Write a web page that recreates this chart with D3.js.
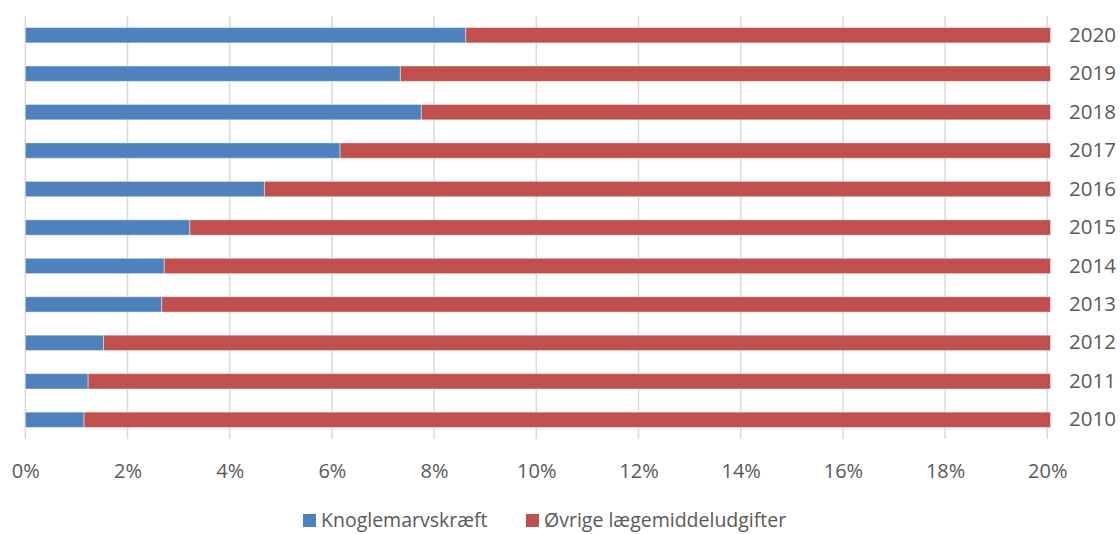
<!DOCTYPE html>
<html>
<head>
<meta charset="utf-8">
<script src="https://cdn.jsdelivr.net/npm/d3@7"></script>
<style>
  body { margin: 0; background: #fff; }
  text { font-family: "Open Sans", "Liberation Sans", sans-serif; fill: #595959; }
</style>
</head>
<body>
<div id="chart-container"></div>
<script>
var years = ['2010', '2011', '2012', '2013', '2014', '2015', '2016', '2017', '2018', '2019', '2020'];
var knoglemarv = [1.15, 1.23, 1.53, 2.67, 2.72, 3.22, 4.68, 6.16, 7.75, 7.34, 8.62];
var oevrige = [98.85, 98.77, 98.47, 97.33, 97.28, 96.78, 95.32, 93.84, 92.25, 92.66, 91.38];
var tickValues = [0, 2, 4, 6, 8, 10, 12, 14, 16, 18, 20];
var seriesNames = ['Knoglemarvskræft', 'Øvrige lægemiddeludgifter'];
var colors = ['#4F81BD', '#C0504D'];

var width = 1120, height = 534;
var plotLeft = 25.3, plotRight = 1047.3, plotTop = 16, plotBottom = 439;

var svg = d3.select('#chart-container')
            .append('svg')
            .attr('width', width)
            .attr('height', height);

var x = d3.scaleLinear().domain([0, 20]).range([plotLeft, plotRight]);
var y = d3.scaleBand().domain(years.slice().reverse()).range([plotTop, plotBottom]).paddingInner(0.6).paddingOuter(0.3);

// gridlines
svg.append('g')
   .selectAll('line')
   .data(tickValues)
   .enter()
   .append('line')
     .attr('x1', function(d) { return x(d); })
     .attr('x2', function(d) { return x(d); })
     .attr('y1', plotTop)
     .attr('y2', plotBottom)
     .attr('stroke', '#d9d9d9')
     .attr('stroke-width', 1.5);

svg.append('defs').append('clipPath')
   .attr('id', 'plotClip')
   .append('rect')
     .attr('x', 0)
     .attr('y', 0)
     .attr('width', x(20) + 3)
     .attr('height', height);

var rows = years.map(function(yr, i) {
  return { year: yr, parts: [[0, knoglemarv[i]], [knoglemarv[i], knoglemarv[i] + oevrige[i]]] };
});

var bars = svg.append('g').attr('clip-path', 'url(#plotClip)');

[0, 1].forEach(function(s) {
  bars.selectAll('rect.s' + s)
      .data(rows)
      .enter()
      .append('rect')
        .attr('class', 's' + s)
        .attr('x', function(d) { return x(d.parts[s][0]); })
        .attr('y', function(d) { return y(d.year); })
        .attr('width', function(d) { return x(d.parts[s][1]) - x(d.parts[s][0]); })
        .attr('height', y.bandwidth())
        .attr('fill', colors[s])
        .attr('stroke', 'rgba(255,255,255,0.45)')
        .attr('stroke-width', 1);
});

// x axis labels
var xAxis = d3.axisBottom(x)
              .tickValues(tickValues)
              .tickSize(0)
              .tickPadding(0)
              .tickFormat(function(d) { return d + '%'; });
var gx = svg.append('g')
            .attr('transform', 'translate(0,' + 478 + ')')
            .call(xAxis);
gx.select('.domain').remove();
gx.selectAll('text')
  .attr('dy', 0)
  .attr('y', 0)
  .style('font-size', '20px')
  .attr('fill', '#595959');

// year labels on the right
var yAxis = d3.axisRight(y).tickSize(0).tickPadding(0);
var gy = svg.append('g')
            .attr('transform', 'translate(' + 1069 + ',0)')
            .call(yAxis);
gy.select('.domain').remove();
gy.selectAll('text')
  .attr('x', 0)
  .style('font-size', '20.5px')
  .attr('fill', '#595959');

// legend
var legendX = [303, 526];
var legend = svg.append('g');
seriesNames.forEach(function(name, i) {
  legend.append('rect')
        .attr('x', legendX[i])
        .attr('y', 514)
        .attr('width', 13)
        .attr('height', 13)
        .attr('fill', colors[i]);
  legend.append('text')
        .attr('x', legendX[i] + 18)
        .attr('y', 527)
        .style('font-size', '19.5px')
        .text(name);
});
</script>
</body>
</html>
